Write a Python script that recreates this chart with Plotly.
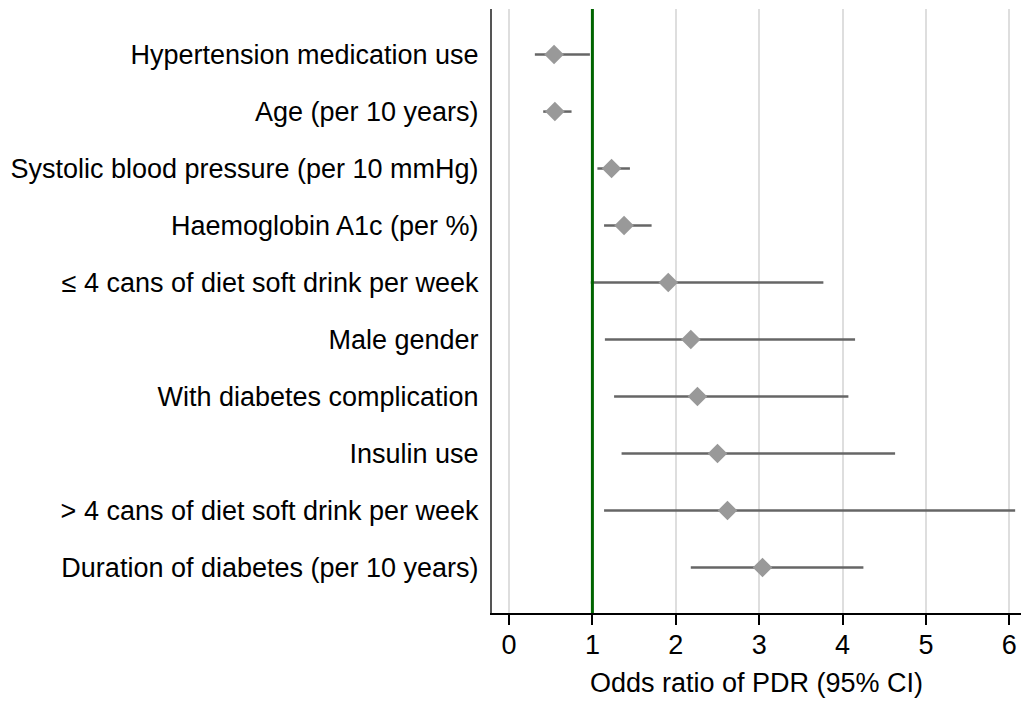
import plotly.graph_objects as go

labels = [
    "Hypertension medication use",
    "Age (per 10 years)",
    "Systolic blood pressure (per 10 mmHg)",
    "Haemoglobin A1c (per %)",
    "≤ 4 cans of diet soft drink per week",
    "Male gender",
    "With diabetes complication",
    "Insulin use",
    "> 4 cans of diet soft drink per week",
    "Duration of diabetes (per 10 years)",
]
odds_ratio = [0.54, 0.55, 1.23, 1.38, 1.91, 2.18, 2.26, 2.50, 2.62, 3.04]
ci_low = [0.31, 0.41, 1.06, 1.14, 0.98, 1.15, 1.26, 1.35, 1.14, 2.18]
ci_high = [0.97, 0.75, 1.45, 1.71, 3.77, 4.15, 4.07, 4.63, 6.07, 4.25]
x_ticks = [0, 1, 2, 3, 4, 5, 6]
reference_value = 1

err_plus = [h - o for h, o in zip(ci_high, odds_ratio)]
err_minus = [o - l for o, l in zip(odds_ratio, ci_low)]

FONT = "Liberation Sans, Arial, sans-serif"

fig = go.Figure()
fig.add_trace(go.Scatter(
    x=odds_ratio,
    y=labels,
    mode="markers",
    marker=dict(symbol="diamond", size=15, color="#999999", line=dict(width=0)),
    error_x=dict(type="data", symmetric=False, array=err_plus, arrayminus=err_minus,
                 width=0, thickness=2.5, color="#666666"),
    showlegend=False,
    hoverinfo="x+y",
))

fig.add_shape(type="line", xref="x", yref="paper", x0=reference_value, x1=reference_value,
              y0=0, y1=1, line=dict(color="#006400", width=3), layer="above")

fig.update_layout(
    width=1021,
    height=702,
    margin=dict(l=492, r=0, t=9, b=89),
    paper_bgcolor="white",
    plot_bgcolor="white",
    font=dict(family=FONT, size=27, color="black"),
    xaxis=dict(
        range=[-0.204, 6.14],
        tickvals=x_ticks,
        ticks="outside",
        ticklen=10,
        tickwidth=1.5,
        tickcolor="black",
        showline=True,
        linecolor="black",
        linewidth=1.5,
        showgrid=True,
        gridcolor="#dedede",
        gridwidth=2,
        zeroline=False,
        title=dict(text="Odds ratio of PDR (95% CI)", standoff=14, font=dict(size=27)),
        tickfont=dict(size=27),
        ticklabelstandoff=-3,
    ),
    yaxis=dict(
        type="category",
        categoryorder="array",
        categoryarray=labels,
        range=[9.8, -0.8],
        showline=True,
        linecolor="#555555",
        linewidth=2,
        showgrid=False,
        zeroline=False,
        ticks="",
        ticklabelstandoff=6,
        tickfont=dict(size=27),
    ),
)

fig.write_html(
    "out.html",
    config={"displayModeBar": False},
    post_script="document.body.style.margin='0';document.body.style.overflow='hidden';",
)
